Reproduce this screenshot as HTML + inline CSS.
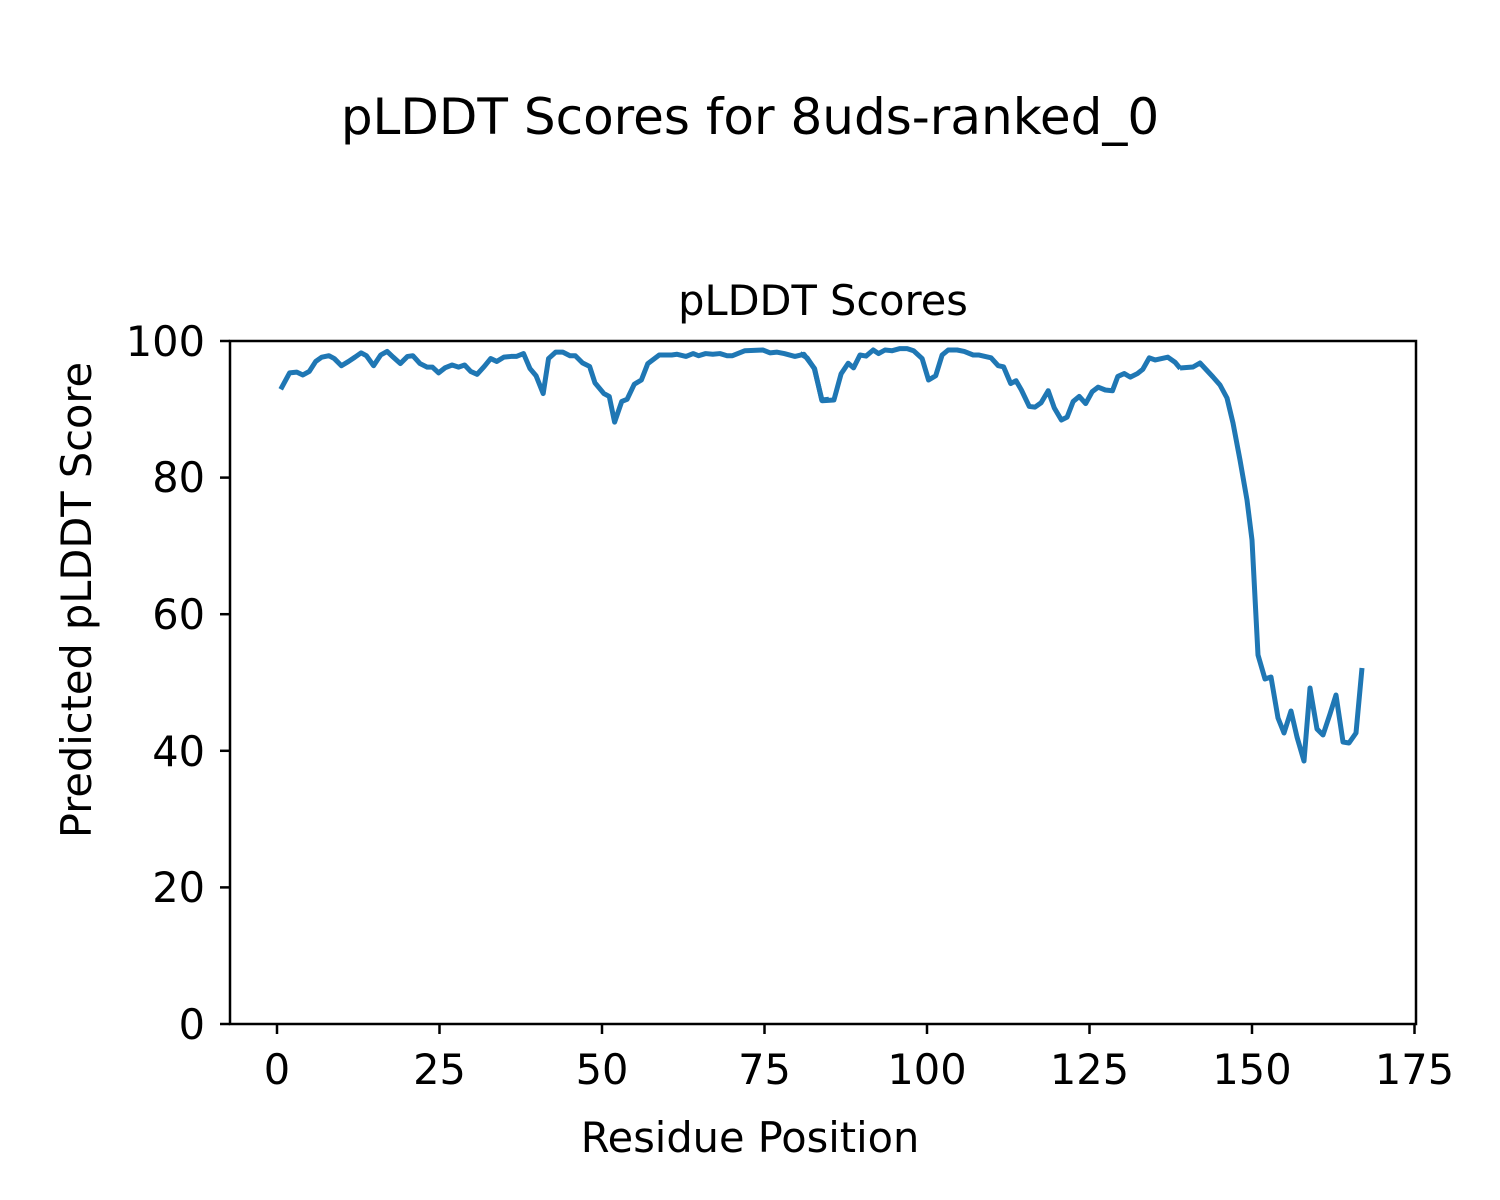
<!DOCTYPE html>
<html><head><meta charset="utf-8"><style>body{margin:0;background:#fff}svg{display:block}text{font-family:"DejaVu Sans","Liberation Sans",sans-serif;fill:#000}</style></head>
<body>
<svg width="1500" height="1200" viewBox="0 0 1500 1200" xmlns="http://www.w3.org/2000/svg">
<rect width="1500" height="1200" fill="#fff"/>
<text x="750" y="134" font-size="50" text-anchor="middle">pLDDT Scores for 8uds-ranked_0</text>
<text x="823" y="315" font-size="41.5" text-anchor="middle">pLDDT Scores</text>
<g stroke="#000" stroke-width="2.5">
<line x1="277" y1="1024" x2="277" y2="1034"/><line x1="439.5" y1="1024" x2="439.5" y2="1034"/><line x1="602" y1="1024" x2="602" y2="1034"/><line x1="764.5" y1="1024" x2="764.5" y2="1034"/><line x1="927" y1="1024" x2="927" y2="1034"/><line x1="1089.5" y1="1024" x2="1089.5" y2="1034"/><line x1="1252" y1="1024" x2="1252" y2="1034"/><line x1="1414.5" y1="1024" x2="1414.5" y2="1034"/>
<line x1="220" y1="341" x2="230" y2="341"/><line x1="220" y1="477.6" x2="230" y2="477.6"/><line x1="220" y1="614.2" x2="230" y2="614.2"/><line x1="220" y1="750.8" x2="230" y2="750.8"/><line x1="220" y1="887.4" x2="230" y2="887.4"/><line x1="220" y1="1024" x2="230" y2="1024"/>
</g>
<g font-size="41.5" text-anchor="middle">
<text x="277" y="1084">0</text><text x="439.5" y="1084">25</text><text x="602" y="1084">50</text><text x="764.5" y="1084">75</text><text x="927" y="1084">100</text><text x="1089.5" y="1084">125</text><text x="1252" y="1084">150</text><text x="1414.5" y="1084">175</text>
</g>
<g font-size="41.5" text-anchor="end">
<text x="205" y="356">100</text><text x="205" y="492">80</text><text x="205" y="629">60</text><text x="205" y="766">40</text><text x="205" y="902">20</text><text x="205" y="1039">0</text>
</g>
<text x="750" y="1152" font-size="41.5" text-anchor="middle">Residue Position</text>
<text transform="translate(91,600) rotate(-90)" font-size="41.5" text-anchor="middle">Predicted pLDDT Score</text>
<g fill="none" stroke="#1f77b4" stroke-width="5" stroke-linejoin="round">
<polyline vector-effect="non-scaling-stroke" transform="translate(270,340) scale(0.3571)" points="30,138 55,92 75,90 92,98 110,88 128,60 145,48 165,44 180,52 200,72 220,60 238,48 255,36 270,44 290,72 310,42 328,32 345,48 365,66 385,46 400,44 420,66 440,76 455,76 472,92 490,78 510,70 528,76 545,70 562,88 580,96 600,74 618,52 635,60 655,48 675,46 690,46 710,38 728,80 745,100 765,150 780,52 800,34 820,34 840,44 855,44 875,64 895,74 910,120 935,150 950,158 965,230 985,172 1000,166 1020,124 1040,112 1058,66 1090,42 1125,42 1140,40 1165,46 1185,38 1200,44 1220,38 1240,40 1260,38 1280,44 1295,44 1330,30 1380,28 1400,36 1420,34 1440,38 1470,46 1495,40 1525,80 1545,168 1565,166"/>
<polyline vector-effect="non-scaling-stroke" transform="translate(800,340) scale(0.3571)" points="0,38 20,50 40,80 62,170 95,168 115,95 135,65 150,78 168,42 185,45 205,28 220,38 238,28 258,30 280,24 300,24 318,30 342,52 360,112 380,100 398,42 415,28 440,28 460,32 485,42 500,42 535,50 555,72 570,75 590,122 605,114 620,140 642,186 658,188 675,176 695,142 712,190 732,224 748,216 765,172 782,158 800,178 818,145 835,132 855,140 875,142 890,102 908,94 925,104 945,94 960,82 978,50 995,56 1030,48 1050,62 1065,80"/>
<polyline points="1180,368 1193,367 1200,363 1213,377 1220,385 1227,398 1233,423 1240,460 1247,500 1252,540 1258,655 1265,679 1271,677 1278,718 1284,733 1291,711 1297,737 1304,761 1310,688 1317,729 1323,735 1330,714 1336,695 1343,742 1349,743 1356,733 1362,668"/>
</g>
<rect x="230" y="341" width="1186" height="683" fill="none" stroke="#000" stroke-width="2.5"/>
</svg>
</body></html>
